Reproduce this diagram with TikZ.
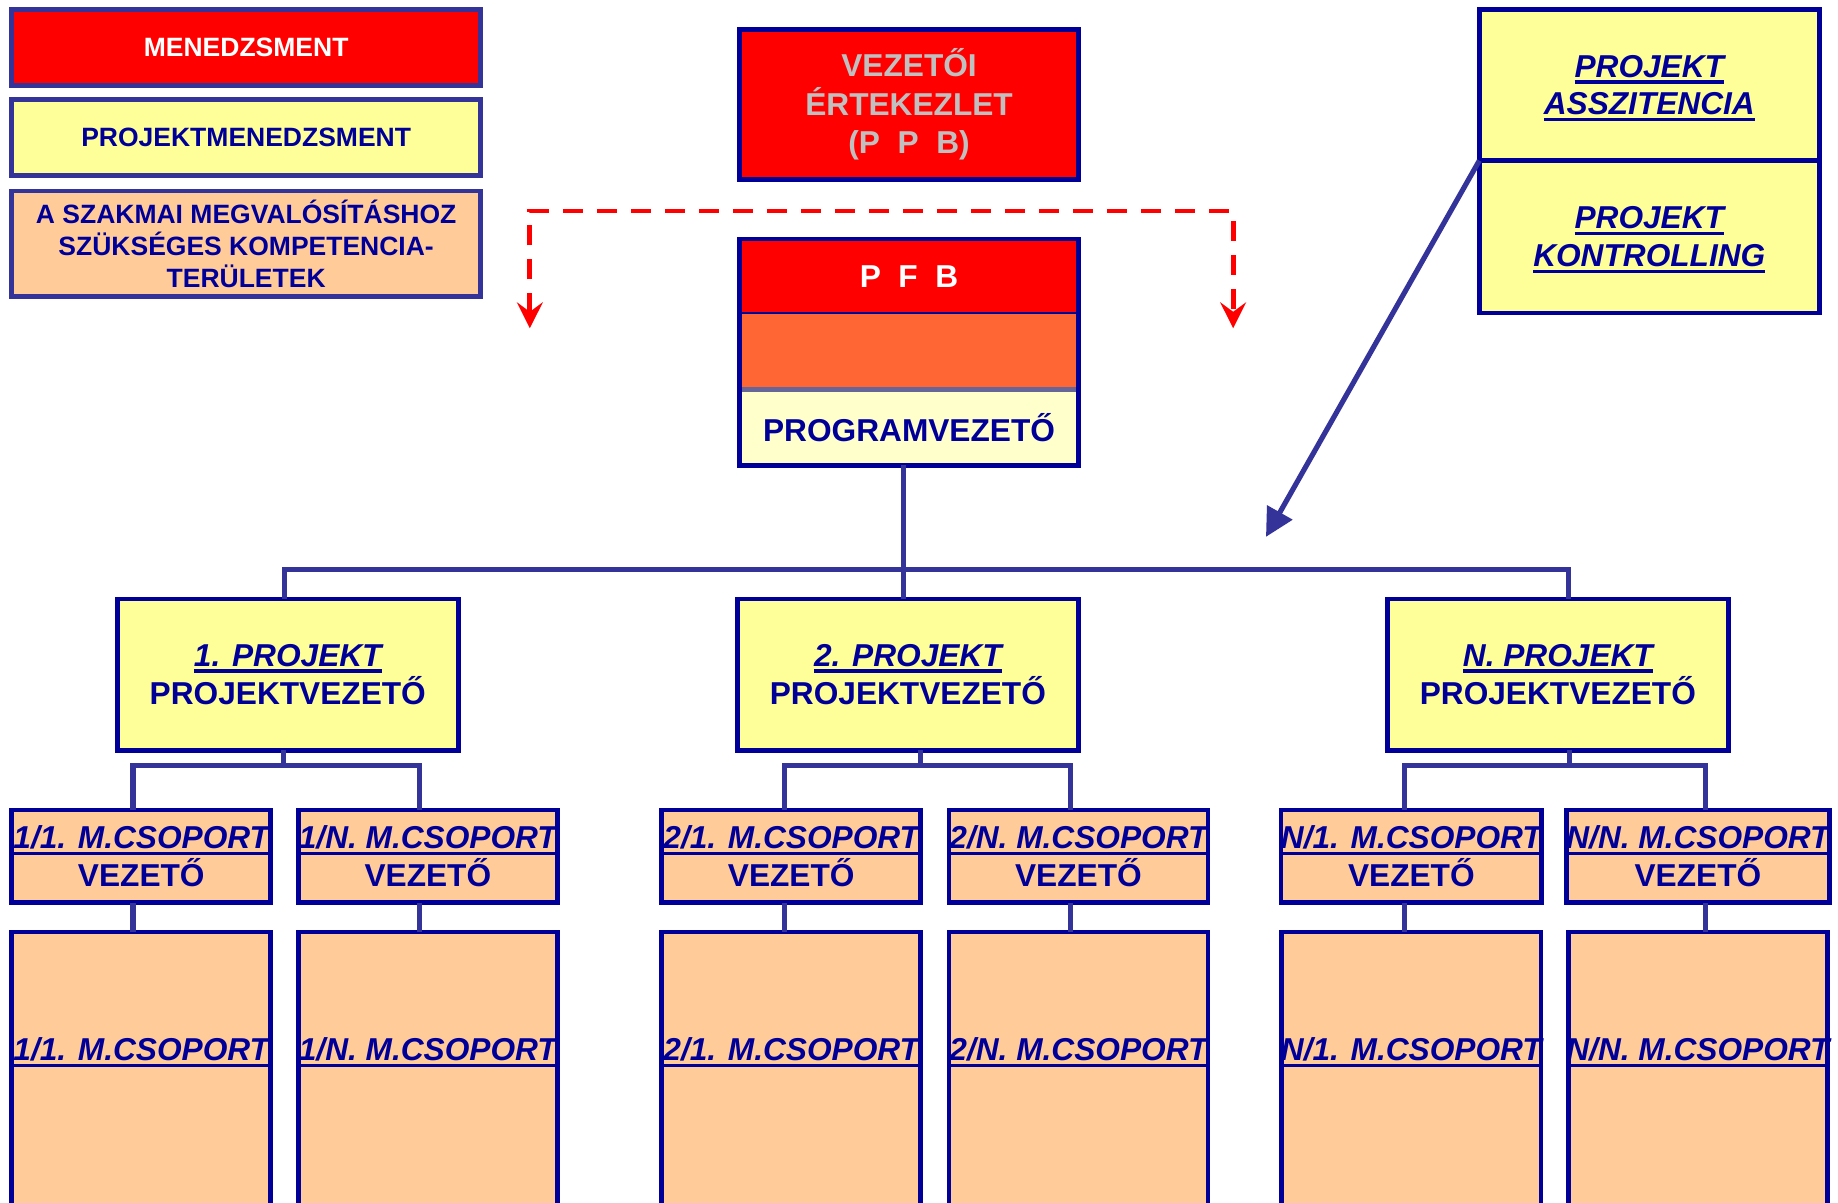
\documentclass[tikz,border=0pt]{standalone}
\usepackage{fontspec}
\setmainfont{Liberation Sans}
\usetikzlibrary{shapes,arrows.meta,positioning,calc}

\definecolor{navy}{HTML}{000099}
\definecolor{linkblue}{HTML}{333399}
\definecolor{boxred}{HTML}{FF0000}
\definecolor{boxyellow}{HTML}{FFFF99}
\definecolor{paleyellow}{HTML}{FFFFCC}
\definecolor{peach}{HTML}{FFCC99}
\definecolor{pfborange}{HTML}{FF6633}
\definecolor{dimgray}{HTML}{C0C0C0}
\definecolor{sepgray}{HTML}{666699}

% underlined text with a thick rule
\newsavebox{\ulsave}
\newcommand{\ulin}[1]{\sbox{\ulsave}{#1}\rlap{\smash{\rule[-2.8pt]{\wd\ulsave}{1.4pt}}}\usebox{\ulsave}}

\begin{document}
\begin{tikzpicture}[x=0.5pt,y=-0.5pt]
        % Define styles
        \tikzstyle{legend} = [rectangle, draw=linkblue, line width=2pt, minimum width=200pt,
            minimum height=32.5pt, align=center, inner sep=0pt, outer sep=0pt,
            font=\fontsize{11.3}{13.5}\selectfont\bfseries]
        \tikzstyle{block} = [rectangle, draw=navy, line width=2pt, text=navy, align=center,
            inner sep=0pt, outer sep=0pt, font=\fontsize{13.5}{16.5}\selectfont\bfseries]
        \tikzstyle{project} = [block, fill=boxyellow, minimum width=145.5pt, minimum height=64.5pt]
        \tikzstyle{leader} = [block, fill=peach, minimum width=110.5pt, minimum height=39.5pt,
            font=\fontsize{13.5}{16}\selectfont\bfseries]
        \tikzstyle{group} = [block, fill=peach, minimum width=110.5pt, minimum height=125pt]
        \tikzstyle{grouptext} = [text=navy, inner sep=0pt, font=\fontsize{13.5}{16}\selectfont\bfseries\itshape]
        \tikzstyle{conn} = [draw=linkblue, line width=2.2pt]
        \tikzstyle{dasharrow} = [draw=boxred, line width=2pt, dash pattern=on 8.5pt off 6pt,
            >={Stealth[length=11pt,width=11pt,inset=4pt]}, <->]

        \useasboundingbox (0,0) rectangle (1568,1026);

        % Legend
        \node [legend, fill=boxred, text=white] (mgmt) at (210,40.5) {MENEDZSMENT};
        \node [legend, fill=boxyellow, text=navy, below=6pt of mgmt] (pm) {PROJEKTMENEDZSMENT};
        \node [legend, fill=peach, text=navy, minimum height=45pt, below=6.5pt of pm] (comp)
            {A SZAKMAI MEGVALÓSÍTÁSHOZ\\SZÜKSÉGES KOMPETENCIA-\\TERÜLETEK};

        % Top nodes
        \node [block, fill=boxred, text=dimgray, minimum width=144.5pt, minimum height=64pt] (meeting)
            at (775.5,89) {VEZETŐI\\ÉRTEKEZLET\\(P~~P~~B)};
        \node [block, fill=boxred, text=white, minimum width=144.5pt, minimum height=32pt] (pfb)
            at (775.5,236) {P~~F~~B};
        \node [block, draw=none, fill=pfborange, minimum width=144.5pt, minimum height=32pt,
            below=0pt of pfb] (pfbmid) {};
        \node [block, draw=none, fill=paleyellow, minimum width=144.5pt, minimum height=32.5pt,
            below=0pt of pfbmid] (prog) {PROGRAMVEZETŐ};
        \draw [sepgray, line width=2pt] (pfbmid.south west) -- (pfbmid.south east);
        \draw [navy, line width=2pt] (pfb.north west) rectangle (prog.south east);

        \node [block, fill=boxyellow, minimum width=145pt, minimum height=64.5pt,
            font=\fontsize{13.5}{16}\selectfont\bfseries\itshape] (assist)
            at (1407,72.5) {\ulin{PROJEKT}\\\ulin{ASSZITENCIA}};
        \node [block, fill=boxyellow, minimum width=145pt, minimum height=65pt,
            font=\fontsize{13.5}{16}\selectfont\bfseries\itshape, below=0pt of assist] (control)
            {\ulin{PROJEKT}\\\ulin{KONTROLLING}};

        % Projects
        \node [project] (p1) at (245.5,575.5) {\ulin{\itshape 1. PROJEKT}\\PROJEKTVEZETŐ};
        \node [project] (p2) at (774.5,575.5) {\ulin{\itshape 2. PROJEKT}\\PROJEKTVEZETŐ};
        \node [project] (pN) at (1329,575.5) {\ulin{\itshape N. PROJEKT}\\PROJEKTVEZETŐ};

        % Group leaders
        \node [leader] (l11) at (120.5,730.5) {\ulin{\itshape 1/1. M.CSOPORT}\\VEZETŐ};
        \node [leader] (l1n) at (365,730.5) {\ulin{\itshape 1/N. M.CSOPORT}\\VEZETŐ};
        \node [leader] (l21) at (675,730.5) {\ulin{\itshape 2/1. M.CSOPORT}\\VEZETŐ};
        \node [leader] (l2n) at (920,730.5) {\ulin{\itshape 2/N. M.CSOPORT}\\VEZETŐ};
        \node [leader] (lN1) at (1204,730.5) {\ulin{\itshape N/1. M.CSOPORT}\\VEZETŐ};
        \node [leader] (lNN) at (1448.5,730.5) {\ulin{\itshape N/N. M.CSOPORT}\\VEZETŐ};

        % Groups
        \node [group, below=12.5pt of l11] (g11) {};
        \node [group, below=12.5pt of l1n] (g1n) {};
        \node [group, below=12.5pt of l21] (g21) {};
        \node [group, below=12.5pt of l2n] (g2n) {};
        \node [group, below=12.5pt of lN1] (gN1) {};
        \node [group, below=12.5pt of lNN] (gNN) {};
        \node [grouptext] at ([yshift=-50pt]g11.north) {\ulin{1/1. M.CSOPORT}};
        \node [grouptext] at ([yshift=-50pt]g1n.north) {\ulin{1/N. M.CSOPORT}};
        \node [grouptext] at ([yshift=-50pt]g21.north) {\ulin{2/1. M.CSOPORT}};
        \node [grouptext] at ([yshift=-50pt]g2n.north) {\ulin{2/N. M.CSOPORT}};
        \node [grouptext] at ([yshift=-50pt]gN1.north) {\ulin{N/1. M.CSOPORT}};
        \node [grouptext] at ([yshift=-50pt]gNN.north) {\ulin{N/N. M.CSOPORT}};

        % Connectors
        \coordinate (bus) at (0,486);
        \draw [conn] ([xshift=-2.25pt]prog.south) -- ([xshift=-2.25pt]prog.south |- bus);
        \draw [conn] ([xshift=-1.25pt]p1.north) -- ([xshift=-1.25pt]p1.north |- bus)
            -- ([xshift=4.5pt]pN.north |- bus) -- ([xshift=4.5pt]pN.north);
        \draw [conn] ([xshift=-1.75pt]p2.north) -- ([xshift=-1.75pt]p2.north |- bus);

        \draw [conn] ([xshift=-1.75pt]p1.south) -- ++(0pt,-6.5pt) coordinate (b1);
        \draw [conn] ([xshift=-3.5pt]l11.north) |- (b1) -| ([xshift=-3.5pt]l1n.north);
        \draw [conn] ([xshift=5.25pt]p2.south) -- ++(0pt,-6.5pt) coordinate (b2);
        \draw [conn] ([xshift=-3pt]l21.north) |- (b2) -| ([xshift=-3.5pt]l2n.north);
        \draw [conn] ([xshift=5pt]pN.south) -- ++(0pt,-6.5pt) coordinate (bN);
        \draw [conn] ([xshift=-3pt]lN1.north) |- (bN) -| ([xshift=3.25pt]lNN.north);

        \draw [conn] ([xshift=-3.5pt]l11.south) -- ([xshift=-3.5pt]g11.north);
        \draw [conn] ([xshift=-3.5pt]l1n.south) -- ([xshift=-3.5pt]g1n.north);
        \draw [conn] ([xshift=-3pt]l21.south) -- ([xshift=-3pt]g21.north);
        \draw [conn] ([xshift=-3.5pt]l2n.south) -- ([xshift=-3.5pt]g2n.north);
        \draw [conn] ([xshift=-3pt]lN1.south) -- ([xshift=-3pt]gN1.north);
        \draw [conn] ([xshift=3.25pt]lNN.south) -- ([xshift=3.25pt]gNN.north);

        % Arrows
        \coordinate (tip) at (1080,458);
        \draw [linkblue, line width=2.2pt, -{Triangle[length=12pt,width=12pt]}] (assist.south west) -- (tip);

        \coordinate (dl) at (452,280);
        \coordinate (dr) at (1052,280);
        \coordinate (dtop) at (0,180);
        \draw [dasharrow] (dl) -- (dl |- dtop) -- (dr |- dtop) -- (dr);
\end{tikzpicture}
\end{document}
